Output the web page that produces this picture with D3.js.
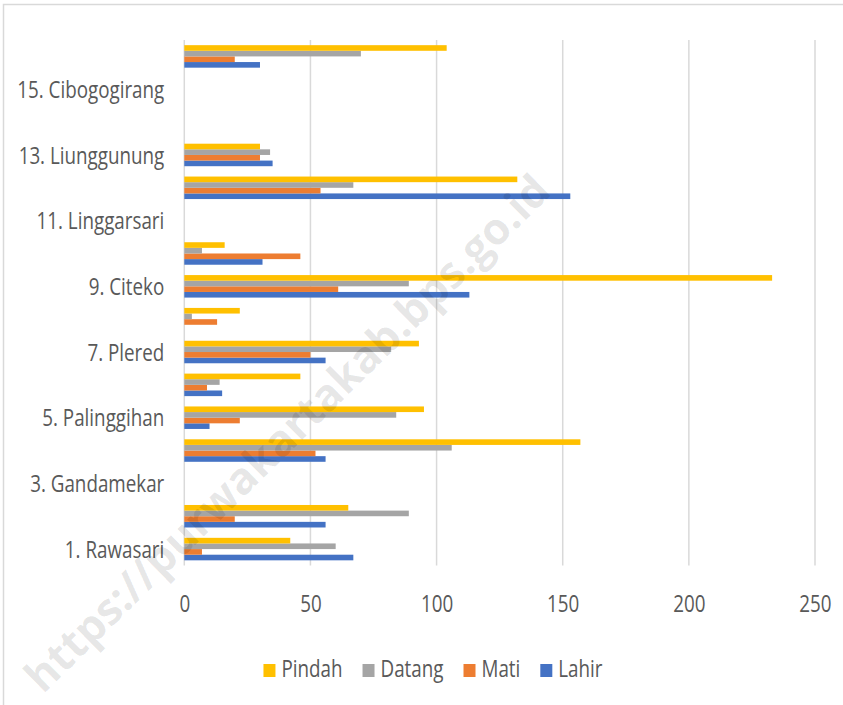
<!DOCTYPE html>
<html><head><meta charset="utf-8">
<script src="https://cdn.jsdelivr.net/npm/d3@7"></script>
<style>body{margin:0;background:#fff}svg{display:block}</style>
</head><body>
<svg id="c" width="843" height="705"></svg>
<script>
const categories = ["1. Rawasari","2.","3. Gandamekar","4.","5. Palinggihan","6.","7. Plered","8.","9. Citeko","10.","11. Linggarsari","12.","13. Liunggunung","14.","15. Cibogogirang","16."];
const lahir  = [67,56,0,56,10,15,56,0,113,31,0,153,35,0,0,30];
const mati   = [7,20,0,52,22,9,50,13,61,46,0,54,30,0,0,20];
const datang = [60,89,0,106,84,14,82,3,89,7,0,67,34,0,0,70];
const pindah = [42,65,0,157,95,46,93,22,233,16,0,132,30,0,0,104];
const xTicks = [0,50,100,150,200,250];
const legendOrder = ["Pindah","Datang","Mati","Lahir"];
const watermark = "https://purwakartakab.bps.go.id";

const series = [
  {name:"Lahir", values:lahir, color:"#4472C4"},
  {name:"Mati", values:mati, color:"#ED7D31"},
  {name:"Datang", values:datang, color:"#A5A5A5"},
  {name:"Pindah", values:pindah, color:"#FFC000"}
];
const colorOf = Object.fromEntries(series.map(s=>[s.name,s.color]));

const svg = d3.select("#c");
const FONT = "'Open Sans', 'Noto Sans', sans-serif";
const FS = 23.8;
const TXT = "#595959";
const GRID = "#D9D9D9";
const pTop = 40, pBottom = 565.5, pLeft = 184.3, pRight = 815;

// chart border (top/left visible)
svg.append("rect").attr("x",3.5).attr("y",4.5).attr("width",900).attr("height",800)
  .attr("fill","none").attr("stroke",GRID).attr("stroke-width",1.5);

const x = d3.scaleLinear().domain([0,250]).range([pLeft,pRight]);
const pi = 0.315;
const y = d3.scaleBand().domain(categories).range([pBottom, pTop]).paddingInner(pi).paddingOuter(pi/2);
const yi = d3.scaleBand().domain(legendOrder).range([0, y.bandwidth()]);

// gridlines
svg.append("g").selectAll("line").data(xTicks).join("line")
  .attr("x1",d=>x(d)).attr("x2",d=>x(d)).attr("y1",pTop).attr("y2",pBottom)
  .attr("stroke",GRID).attr("stroke-width",1.5);

// bars
const g = svg.append("g");
series.forEach(s=>{
  g.append("g").selectAll("rect").data(categories.map((c,i)=>({c,v:s.values[i]}))).join("rect")
    .attr("x",x(0)).attr("y",d=>y(d.c)+yi(s.name))
    .attr("width",d=>x(d.v)-x(0)).attr("height",yi.bandwidth())
    .attr("fill",s.color);
});

// axes
const xAxis = svg.append("g").attr("transform",`translate(0,${pBottom})`)
  .call(d3.axisBottom(x).tickValues(xTicks).tickSize(0).tickPadding(29.6));
const yAxis = svg.append("g").attr("transform",`translate(${pLeft},0)`)
  .call(d3.axisLeft(y).tickSize(0).tickPadding(20).tickFormat((d,i)=> i%2===0 ? d : ""));
[xAxis,yAxis].forEach(a=>{
  a.select(".domain").remove();
  a.selectAll("text").attr("font-family",FONT).attr("font-size",FS).attr("fill",TXT);
});
yAxis.selectAll("text").attr("dy","0.36em");

// legend
const K = 0.79;
const leg = svg.append("g");
const sq = 12, gap = 6, itemGap = 20;
let cx = 0;
legendOrder.forEach(n=>{
  const it = leg.append("g").attr("transform",`translate(${cx},0)`);
  it.append("rect").attr("x",0).attr("y",-13).attr("width",sq).attr("height",13).attr("fill",colorOf[n]);
  const t = it.append("text").attr("x",sq+gap).attr("y",0).text(n)
    .attr("font-family",FONT).attr("font-size",FS).attr("fill",TXT);
  const w = t.node().getComputedTextLength()*K;
  cx += sq+gap+w+itemGap;
});

// squeeze all text horizontally (narrow font look)
svg.selectAll("text").each(function(){
  const len = this.getComputedTextLength();
  if (len>0) d3.select(this).attr("textLength",len*K).attr("lengthAdjust","spacingAndGlyphs");
});
const totalW = cx - itemGap;
leg.attr("transform",`translate(${433-totalW/2},677)`);

// watermark
svg.append("text").text(watermark)
  .attr("transform","translate(286,432) rotate(-44.5)")
  .attr("text-anchor","middle").attr("dominant-baseline","central")
  .attr("font-family",FONT).attr("font-weight","bold")
  .attr("font-size",44).attr("fill","#000").attr("fill-opacity",0.1)
  .attr("textLength",715).attr("lengthAdjust","spacingAndGlyphs");
</script>
</body></html>
